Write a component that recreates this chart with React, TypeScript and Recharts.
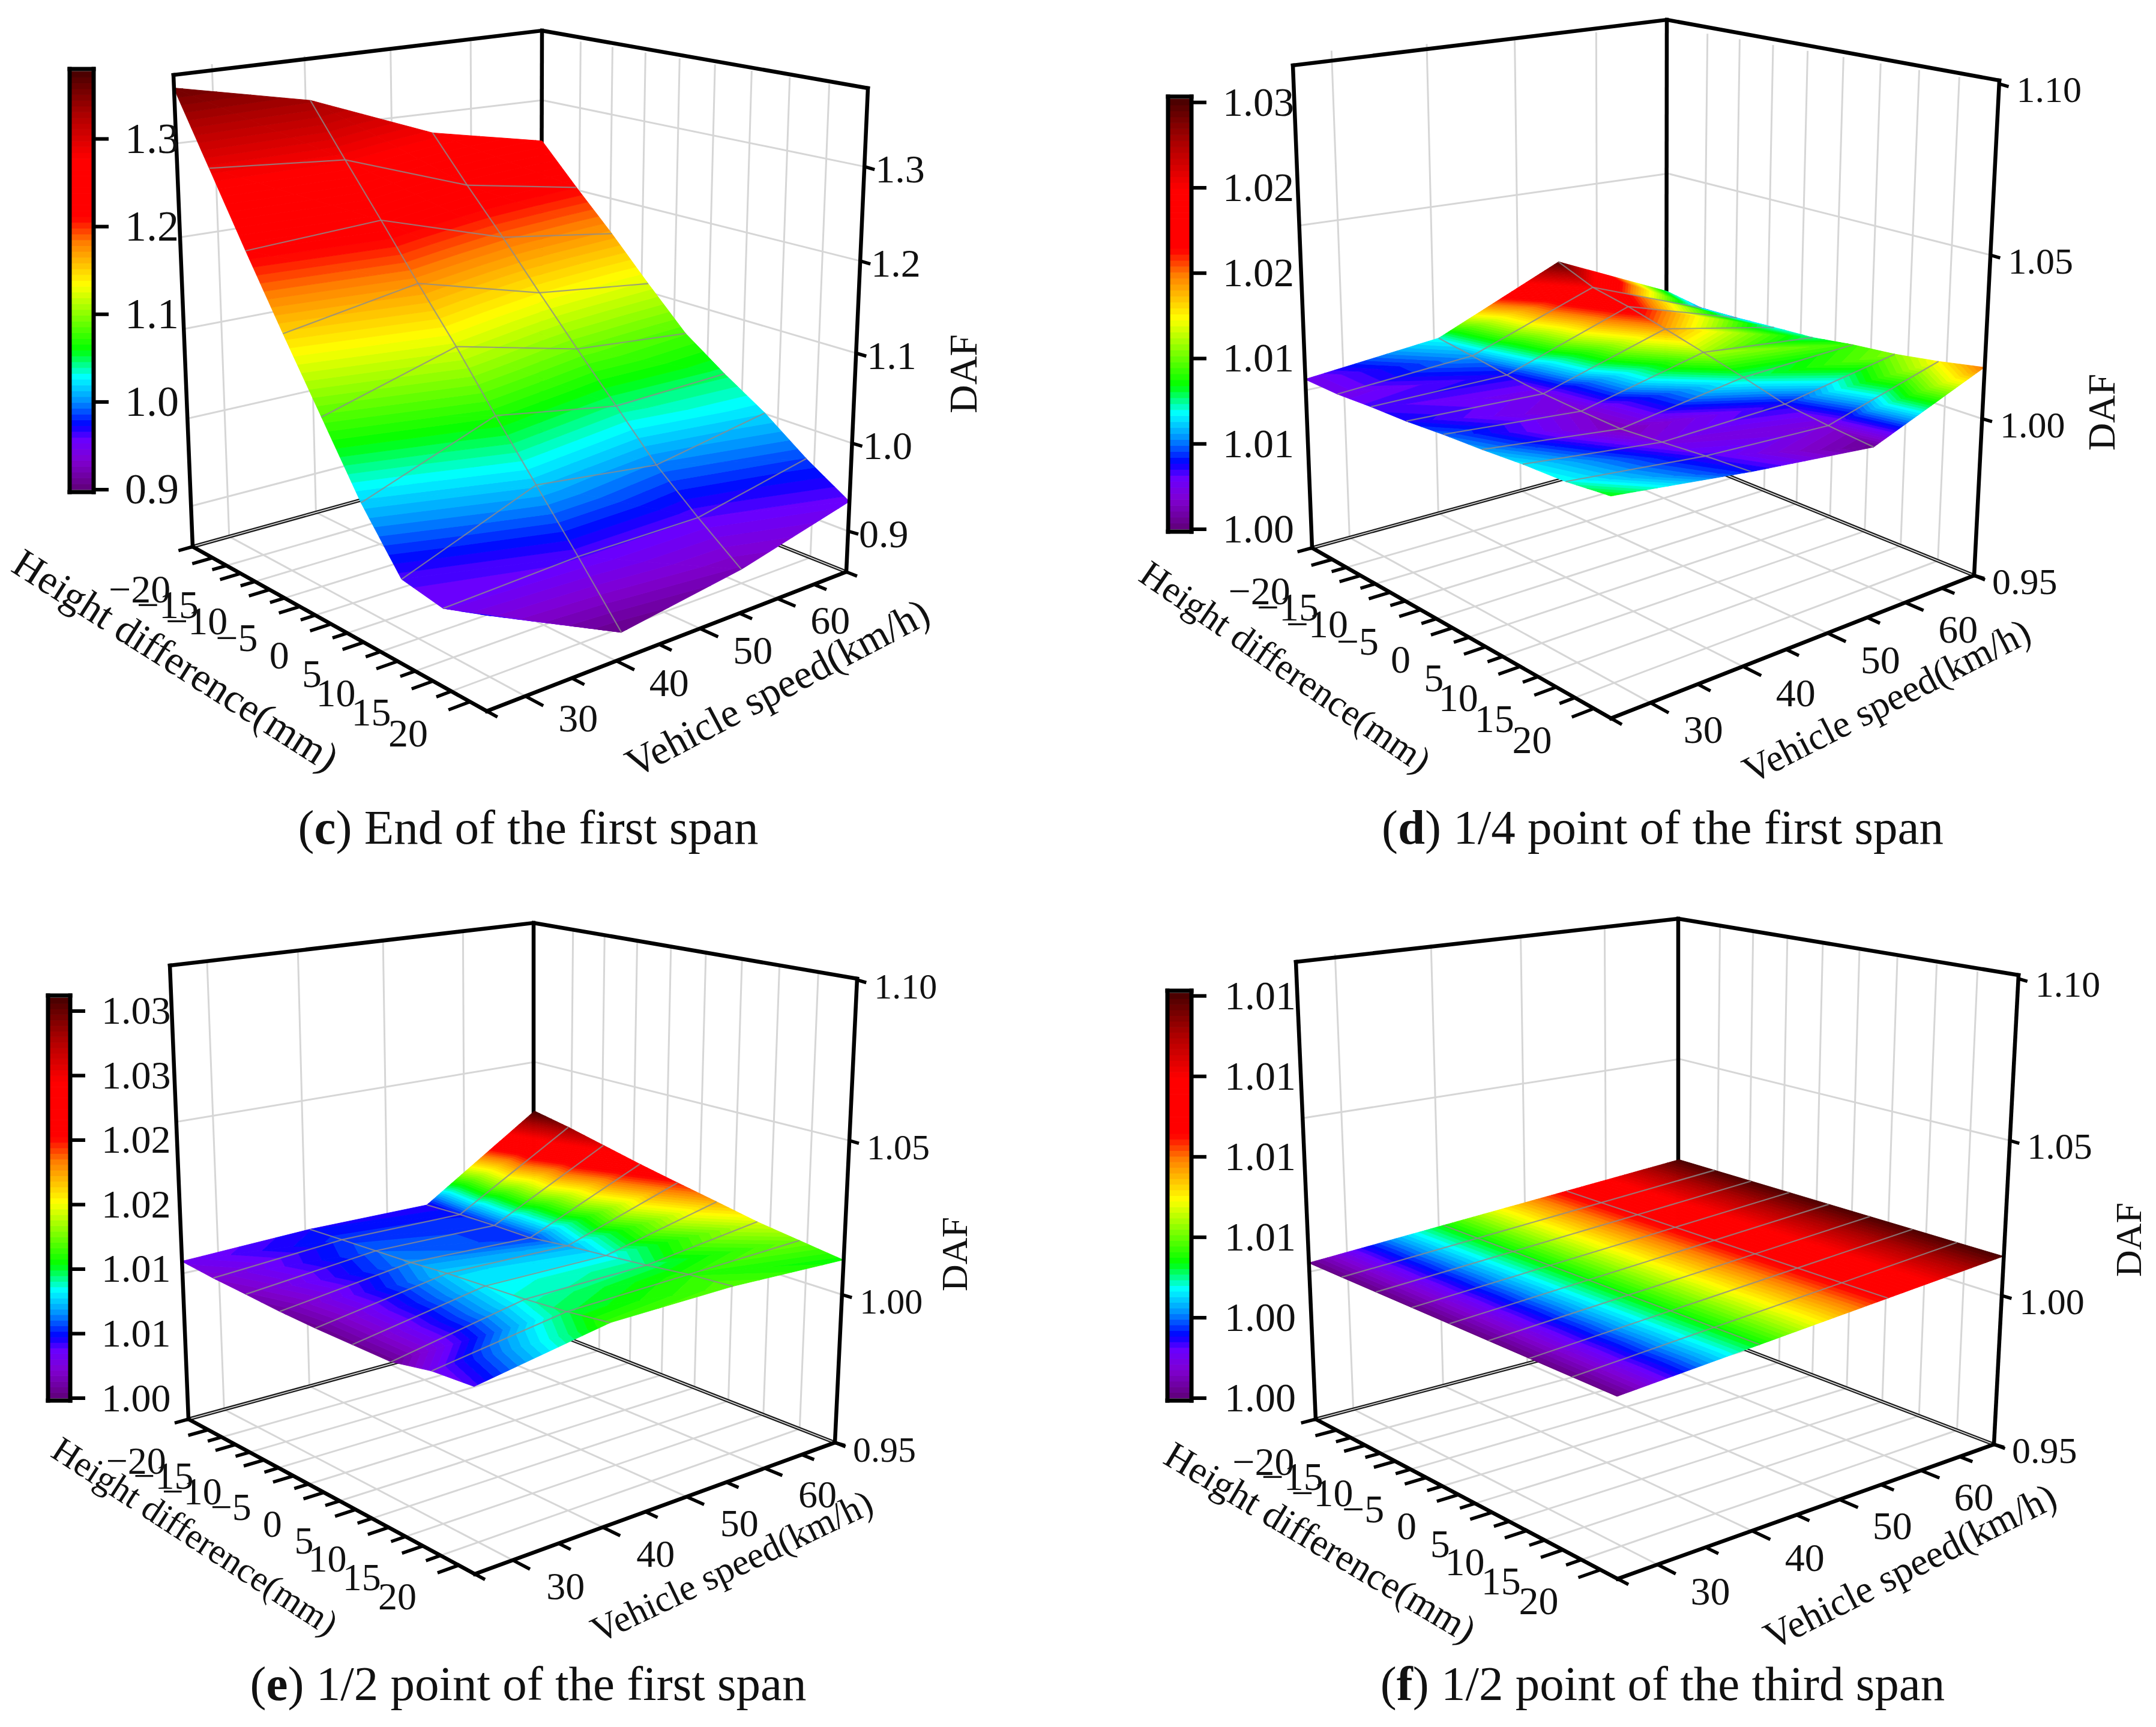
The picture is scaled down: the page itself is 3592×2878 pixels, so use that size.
import React from "react";
import { ScatterChart, Scatter, XAxis, YAxis } from "recharts";

const W = 3592;
const H = 2878;
const FONT = "'Liberation Serif', 'Times New Roman', serif";

// ---------- shared categories ----------
const heightDiffs = [-20, -15, -10, -5, 0, 5, 10, 15, 20];
const speeds = [30, 40, 50, 60];
const speedTickLabels = [30, 40, 50, 60];
const speedMinor = [35, 45, 55, 65];
const heightMinor = [-17.5, -12.5, -7.5, -2.5, 2.5, 7.5, 12.5, 17.5];

// ---------- (c) End of the first span: DAF at speed 30/40/50/60 for each height difference ----------
const cAt30 = [1.358, 1.284, 1.21, 1.138, 1.068, 0.998, 0.94, 0.932, 0.947];
const cAt40 = [1.33, 1.274, 1.219, 1.163, 1.109, 1.051, 0.995, 0.939, 0.881];
const cAt50 = [1.277, 1.226, 1.177, 1.126, 1.076, 1.027, 0.978, 0.938, 0.901];
const cAt60 = [1.25, 1.203, 1.158, 1.11, 1.064, 1.031, 1.001, 0.965, 0.934];
// ---------- (d) 1/4 point of the first span ----------
const dAt30 = [1.0025, 1.0025, 1.0033, 1.0038, 1.0048, 1.0055, 1.0065, 1.007, 1.0085];
const dAt40 = [1.007, 1.0055, 1.0038, 1.0025, 1.0018, 1.0013, 1.0023, 1.0033, 1.004];
const dAt50 = [1.0248, 1.02, 1.0175, 1.0143, 1.011, 1.0075, 1.0038, 1.002, 1.0005];
const dAt60 = [1.0075, 1.0055, 1.006, 1.0068, 1.0075, 1.0093, 1.0105, 1.0125, 1.015];
// ---------- (e) 1/2 point of the first span ----------
const eAt30 = [1.0032, 1.0022, 1.0016, 1.0009, 1.0006, 1.0006, 1.0006, 1.0032, 1.0041];
const eAt40 = [1.0047, 1.0054, 1.006, 1.0066, 1.0076, 1.0082, 1.0088, 1.0098, 1.0114];
const eAt50 = [1.0044, 1.0051, 1.0054, 1.0054, 1.007, 1.0082, 1.0095, 1.0111, 1.012];
const eAt60 = [1.031, 1.0285, 1.0255, 1.0225, 1.0198, 1.0172, 1.0145, 1.0125, 1.0105];
// ---------- (f) 1/2 point of the third span ----------
const fAt30 = [1.0001, 1.0001, 1.0001, 1.0001, 1.0001, 1.0001, 1.0001, 1.0001, 1.0001];
const fAt40 = [1.0034, 1.0034, 1.0034, 1.0034, 1.0034, 1.0034, 1.0034, 1.0034, 1.0034];
const fAt50 = [1.0067, 1.0067, 1.0067, 1.0067, 1.0067, 1.0067, 1.0067, 1.0067, 1.0067];
const fAt60 = [1.01, 1.01, 1.01, 1.01, 1.01, 1.01, 1.01, 1.01, 1.01];

// ---------- value-axis ticks ----------
const cDafTicks = [0.9, 1.0, 1.1, 1.2, 1.3];
const cDafLabels = ["0.9", "1.0", "1.1", "1.2", "1.3"];
const lowDafTicks = [0.95, 1.0, 1.05, 1.1];
const lowDafLabels = ["0.95", "1.00", "1.05", "1.10"];
const cBarTicks = [0.9, 1.0, 1.1, 1.2, 1.3];
const cBarLabels = ["0.9", "1.0", "1.1", "1.2", "1.3"];
const dBarTicks = [1.0, 1.005, 1.01, 1.015, 1.02, 1.025];
const dBarLabels = ["1.00", "1.01", "1.01", "1.02", "1.02", "1.03"];
const eBarTicks = [1.0, 1.005, 1.01, 1.015, 1.02, 1.025, 1.03];
const eBarLabels = ["1.00", "1.01", "1.01", "1.02", "1.02", "1.03", "1.03"];
const fBarTicks = [1.0, 1.002, 1.004, 1.006, 1.008, 1.01];
const fBarLabels = ["1.00", "1.00", "1.01", "1.01", "1.01", "1.01"];

// Origin-style rainbow palette
const paletteStops: [number, number[]][] = [
  [0, [96, 0, 120]],
  [0.07, [128, 0, 210]],
  [0.12, [105, 0, 255]],
  [0.155, [0, 0, 255]],
  [0.21, [0, 140, 255]],
  [0.27, [0, 255, 255]],
  [0.335, [0, 255, 0]],
  [0.49, [255, 255, 0]],
  [0.59, [255, 128, 0]],
  [0.65, [255, 0, 0]],
  [0.79, [255, 0, 0]],
  [0.9, [170, 0, 0]],
  [1, [70, 0, 0]],
];
const LEVELS = 72;

function paletteColor(f: number): string {
  for (let i = 1; i < paletteStops.length; i++) {
    if (f <= paletteStops[i][0]) {
      const [a, ca] = paletteStops[i - 1];
      const [b, cb] = paletteStops[i];
      const t = (f - a) / (b - a);
      const c = ca.map((v, k) => Math.round(v + (cb[k] - v) * t));
      return `rgb(${c[0]},${c[1]},${c[2]})`;
    }
  }
  return "rgb(70,0,0)";
}

type P = [number, number];
type Panel = {
  rows: number[][];
  L: P; F: P; R: P; B: P; TL: P; TB: P; TR: P;
  zLo: number; zHi: number; surfaceLo: number; lift: number;
  dafTicks: number[]; dafLabels: string[]; dafGrid: number[];
  bar: { x0: number; x1: number; yBottom: number; yTop: number; lo: number; hi: number; ticks: number[]; labels: string[]; labelX: number; size: number };
  tickSize: number; zSize: number; zDx: number; zDy: number; speedDy: number;
  heightTitle: { x: number; y: number; rot: number; size: number };
  speedTitle: { x: number; y: number; rot: number; size: number };
  daf: { x: number; y: number; size: number };
  caption: { x: number; y: number; letter: string; rest: string };
};

const panels: Panel[] = [
  {
    rows: [cAt30, cAt40, cAt50, cAt60],
    L: [321, 911], F: [811, 1185], R: [1410, 953], B: [901, 750], TL: [289, 125], TB: [903, 51], TR: [1446, 147],
    zLo: 0.853, zHi: 1.379, surfaceLo: 0.875, lift: 0, dafTicks: cDafTicks, dafLabels: cDafLabels, dafGrid: cDafTicks,
    bar: { x0: 119, x1: 153, yBottom: 816, yTop: 119, lo: 0.9, hi: 1.377, ticks: cBarTicks, labels: cBarLabels, labelX: 208, size: 72 },
    tickSize: 66, zSize: 66, zDx: 18, zDy: 4, speedDy: 36,
    heightTitle: { x: 293, y: 1100, rot: 32.5, size: 68 },
    speedTitle: { x: 1295, y: 1146, rot: -27.8, size: 68 },
    daf: { x: 1604, y: 623, size: 66 },
    caption: { x: 880, y: 1379, letter: "c", rest: " End of the first span" },
  },
  {
    rows: [dAt30, dAt40, dAt50, dAt60],
    L: [2186, 913], F: [2684, 1197], R: [3289, 959], B: [2776, 751], TL: [2154, 109], TB: [2777, 33], TR: [3331, 134],
    zLo: 0.95, zHi: 1.1, surfaceLo: 1.0, lift: 0.006, dafTicks: lowDafTicks, dafLabels: lowDafLabels, dafGrid: [1.0, 1.05],
    bar: { x0: 1949, x1: 1982, yBottom: 882, yTop: 165, lo: 1.0, hi: 1.0252, ticks: dBarTicks, labels: dBarLabels, labelX: 2037, size: 68 },
    tickSize: 66, zSize: 62, zDx: 30, zDy: 10, speedDy: 44,
    heightTitle: { x: 2142, y: 1111, rot: 34.5, size: 62 },
    speedTitle: { x: 3143, y: 1168, rot: -27, size: 64 },
    daf: { x: 3501, y: 687, size: 64 },
    caption: { x: 2770, y: 1379, letter: "d", rest: " 1/4 point of the first span" },
  },
  {
    rows: [eAt30, eAt40, eAt50, eAt60],
    L: [314, 2365], F: [791, 2623], R: [1391, 2404], B: [889, 2208], TL: [283, 1609], TB: [889, 1538], TR: [1428, 1631],
    zLo: 0.95, zHi: 1.1, surfaceLo: 1.0, lift: 0.006, dafTicks: lowDafTicks, dafLabels: lowDafLabels, dafGrid: [1.0, 1.05],
    bar: { x0: 83, x1: 114, yBottom: 2330, yTop: 1663, lo: 1.0, hi: 1.03102, ticks: eBarTicks, labels: eBarLabels, labelX: 169, size: 66 },
    tickSize: 64, zSize: 60, zDx: 30, zDy: 12, speedDy: 44,
    heightTitle: { x: 325, y: 2560, rot: 33, size: 60 },
    speedTitle: { x: 1219, y: 2610, rot: -25.5, size: 62 },
    daf: { x: 1590, y: 2090, size: 62 },
    caption: { x: 880, y: 2806, letter: "e", rest: " 1/2 point of the first span" },
  },
  {
    rows: [fAt30, fAt40, fAt50, fAt60],
    L: [2192, 2365], F: [2695, 2631], R: [3322, 2407], B: [2796, 2206], TL: [2159, 1603], TB: [2796, 1531], TR: [3363, 1625],
    zLo: 0.95, zHi: 1.1, surfaceLo: 1.0, lift: 0.019, dafTicks: lowDafTicks, dafLabels: lowDafLabels, dafGrid: [1.0, 1.05],
    bar: { x0: 1948, x1: 1982, yBottom: 2330, yTop: 1655, lo: 1.0, hi: 1.01007, ticks: fBarTicks, labels: fBarLabels, labelX: 2040, size: 68 },
    tickSize: 66, zSize: 62, zDx: 30, zDy: 10, speedDy: 44,
    heightTitle: { x: 2200, y: 2570, rot: 30.8, size: 64 },
    speedTitle: { x: 3182, y: 2610, rot: -26.8, size: 65 },
    daf: { x: 3546, y: 2066, size: 62 },
    caption: { x: 2770, y: 2806, letter: "f", rest: " 1/2 point of the third span" },
  },
];

// axis extents along the floor, expressed in the tick labels' units
const H_LO = -23.7, H_HI = 22.2;
const S_LO = 26, S_HI = 69.6;

function makeProjector(p: Panel) {
  const [x0, y0] = p.L, [x1, y1] = p.F, [x2, y2] = p.R, [x3, y3] = p.B;
  const dx1 = x1 - x2, dx2 = x3 - x2, sx = x0 - x1 + x2 - x3;
  const dy1 = y1 - y2, dy2 = y3 - y2, sy = y0 - y1 + y2 - y3;
  const den = dx1 * dy2 - dx2 * dy1;
  const g = (sx * dy2 - dx2 * sy) / den;
  const h = (dx1 * sy - sx * dy1) / den;
  const a = x1 - x0 + g * x1, b = x3 - x0 + h * x3, c = x0;
  const d = y1 - y0 + g * y1, e = y3 - y0 + h * y3, f = y0;
  // least-squares fit of the vertical column through the three visible top corners
  const tops: [number, number, P][] = [[0, 0, p.TL], [0, 1, p.TB], [1, 1, p.TR]];
  const A: number[][] = [];
  const rhs: number[] = [];
  tops.forEach(([u, v, T]) => {
    const dn = g * u + h * v + 1;
    A.push([1, 0, -T[0]]); rhs.push(T[0] * dn - (a * u + b * v + c));
    A.push([0, 1, -T[1]]); rhs.push(T[1] * dn - (d * u + e * v + f));
  });
  const N = [0, 1, 2].map((r) => [0, 1, 2].map((s) => A.reduce((acc, row) => acc + row[r] * row[s], 0)));
  const M = [0, 1, 2].map((r) => A.reduce((acc, row, k) => acc + row[r] * rhs[k], 0));
  for (let i = 0; i < 3; i++) {
    let piv = i;
    for (let r = i + 1; r < 3; r++) if (Math.abs(N[r][i]) > Math.abs(N[piv][i])) piv = r;
    [N[i], N[piv]] = [N[piv], N[i]];
    [M[i], M[piv]] = [M[piv], M[i]];
    for (let r = 0; r < 3; r++) {
      if (r === i) continue;
      const k = N[r][i] / N[i][i];
      for (let s = 0; s < 3; s++) N[r][s] -= k * N[i][s];
      M[r] -= k * M[i];
    }
  }
  const c1 = M[0] / N[0][0], c2 = M[1] / N[1][1], c3 = M[2] / N[2][2];
  return (u: number, v: number, w: number): P => {
    const dn = g * u + h * v + 1 + c3 * w;
    return [(a * u + b * v + c + c1 * w) / dn, (d * u + e * v + f + c2 * w) / dn];
  };
}

type Seg = { px: number; py: number; dx: number; dy: number; stroke: string; w: number; cap?: string };
type Poly = { px: number; py: number; pts: P[]; fill: string };
type Txt = { px: number; py: number; text: string; size: number; anchor: string; rot?: number; letter?: string };

const seg = (a: P, b: P, stroke: string, w: number, cap = "butt"): Seg => ({
  px: (a[0] + b[0]) / 2, py: (a[1] + b[1]) / 2, dx: (b[0] - a[0]) / 2, dy: (b[1] - a[1]) / 2, stroke, w, cap,
});

function polyFrom(points: P[], fill: string): Poly {
  const px = points.reduce((s, q) => s + q[0], 0) / points.length;
  const py = points.reduce((s, q) => s + q[1], 0) / points.length;
  return { px, py, pts: points.map((q) => [q[0] - px, q[1] - py] as P), fill };
}

function clipAbove(poly: number[][], level: number, keepAbove: boolean): number[][] {
  const out: number[][] = [];
  const inside = (q: number[]) => (keepAbove ? q[2] >= level : q[2] <= level);
  for (let i = 0; i < poly.length; i++) {
    const a = poly[i], b = poly[(i + 1) % poly.length];
    const ia = inside(a), ib = inside(b);
    if (ia) out.push(a);
    if (ia !== ib) {
      const t = (level - a[2]) / (b[2] - a[2]);
      out.push([a[0] + (b[0] - a[0]) * t, a[1] + (b[1] - a[1]) * t, level]);
    }
  }
  return out;
}

function bandsOfTriangle(tri: number[][], lo: number, hi: number, out: Poly[]) {
  const zs = tri.map((q) => q[2]);
  const zmin = Math.min(...zs), zmax = Math.max(...zs);
  for (let k = 0; k < LEVELS; k++) {
    const a = lo + ((hi - lo) * k) / LEVELS;
    const b = lo + ((hi - lo) * (k + 1)) / LEVELS;
    const aa = k === 0 ? -Infinity : a;
    const bb = k === LEVELS - 1 ? Infinity : b;
    if (zmax < aa || zmin > bb) continue;
    let poly = tri;
    if (aa !== -Infinity) poly = clipAbove(poly, aa, true);
    if (poly.length && bb !== Infinity) poly = clipAbove(poly, bb, false);
    if (poly.length < 3) continue;
    out.push(polyFrom(poly.map((q) => [q[0], q[1]] as P), paletteColor((k + 0.5) / LEVELS)));
  }
}

const backLayer: Seg[] = [];
const surfaceLayer: Poly[] = [];
const frontLayer: Seg[] = [];
const textLayer: Txt[] = [];

const GRID = "#d6d6d6";
const MESH = "rgba(140,140,140,0.8)";
const INK = "#000000";
const FRAME = 6.5;

panels.forEach((p) => {
  const proj = makeProjector(p);
  const uOf = (hd: number) => (hd - H_LO) / (H_HI - H_LO);
  const vOf = (s: number) => (s - S_LO) / (S_HI - S_LO);
  const wOf = (z: number) => (z - p.zLo) / (p.zHi - p.zLo);

  // floor and wall grids
  heightMinor.forEach((hd) => {
    const u = uOf(hd);
    backLayer.push(seg(proj(u, 0, 0), proj(u, 1, 0), GRID, 3));
    backLayer.push(seg(proj(u, 1, 0), proj(u, 1, 1), GRID, 3));
  });
  speeds.forEach((s) => {
    const v = vOf(s);
    backLayer.push(seg(proj(0, v, 0), proj(1, v, 0), GRID, 3));
    backLayer.push(seg(proj(0, v, 0), proj(0, v, 1), GRID, 3));
  });
  p.dafGrid.forEach((z) => {
    const w = wOf(z);
    backLayer.push(seg(proj(0, 0, w), proj(0, 1, w), GRID, 3));
    backLayer.push(seg(proj(0, 1, w), proj(1, 1, w), GRID, 3));
  });

  // back frame
  backLayer.push(seg(proj(0, 0, 0), proj(0, 1, 0), "#1c1c1c", 6));
  backLayer.push(seg(proj(0, 1, 0), proj(1, 1, 0), "#1c1c1c", 6));
  backLayer.push(seg(proj(0, 0, 0), proj(0, 1, 0), "#e8e8e8", 1.6));
  backLayer.push(seg(proj(0, 1, 0), proj(1, 1, 0), "#e8e8e8", 1.6));
  backLayer.push(seg(p.TL, p.TB, INK, FRAME, "square"));
  backLayer.push(seg(p.TB, p.TR, INK, FRAME, "square"));
  backLayer.push(seg(p.B, p.TB, INK, FRAME));

  // surface, far cells first, split into iso-level bands
  const node = (i: number, j: number): number[] => {
    const z = p.rows[j][i];
    const q = proj(i / (heightDiffs.length - 1), j / (speeds.length - 1), wOf(z) + p.lift);
    return [q[0], q[1], z];
  };
  for (let i = 0; i < heightDiffs.length - 1; i++) {
    for (let j = speeds.length - 2; j >= 0; j--) {
      const a = node(i, j), b = node(i + 1, j), c = node(i + 1, j + 1), d = node(i, j + 1);
      bandsOfTriangle([a, b, c], p.surfaceLo, p.bar.hi, surfaceLayer);
      bandsOfTriangle([a, c, d], p.surfaceLo, p.bar.hi, surfaceLayer);
    }
  }

  // mesh lines on the surface
  for (let i = 0; i < heightDiffs.length; i++) {
    for (let j = 0; j < speeds.length; j++) {
      const a = node(i, j);
      if (i < heightDiffs.length - 1 && j > 0 && j < speeds.length - 1) {
        const b = node(i + 1, j);
        frontLayer.push(seg([a[0], a[1]], [b[0], b[1]], MESH, 2.2));
      }
      if (j < speeds.length - 1 && i > 0 && i < heightDiffs.length - 1) {
        const b = node(i, j + 1);
        frontLayer.push(seg([a[0], a[1]], [b[0], b[1]], MESH, 2.2));
      }
    }
  }

  // front frame
  frontLayer.push(seg(p.L, p.TL, INK, FRAME, "square"));
  frontLayer.push(seg(p.R, p.TR, INK, FRAME, "square"));
  frontLayer.push(seg(p.L, p.F, INK, FRAME, "square"));
  frontLayer.push(seg(p.F, p.R, INK, FRAME, "square"));
  frontLayer.push(seg(p.L, proj(0, -0.035, 0), INK, 5.5));
  frontLayer.push(seg(p.F, proj(1.03, 0, 0), INK, 5.5));
  frontLayer.push(seg(p.R, proj(1.03, 1, 0), INK, 5.5));

  // height axis ticks and labels
  heightDiffs.forEach((hd) => {
    const t = proj(uOf(hd), 0, 0);
    frontLayer.push(seg(t, proj(uOf(hd), -0.05, 0), INK, 5.5));
    textLayer.push({
      px: t[0] - 70, py: t[1] + 52,
      text: hd < 0 ? `\u2212${-hd}` : String(hd), size: p.tickSize, anchor: "end",
    });
  });
  heightMinor.forEach((hd) => {
    const t = proj(uOf(hd), 0, 0);
    frontLayer.push(seg(t, proj(uOf(hd), -0.035, 0), INK, 5.5));
  });

  // speed axis ticks and labels
  speedTickLabels.forEach((s) => {
    const t = proj(1, vOf(s), 0);
    frontLayer.push(seg(t, proj(1.05, vOf(s), 0), INK, 5.5));
    textLayer.push({ px: t[0] + 88, py: t[1] + p.speedDy, text: String(s), size: p.tickSize, anchor: "middle" });
  });
  speedMinor.forEach((s) => {
    const t = proj(1, vOf(s), 0);
    frontLayer.push(seg(t, proj(1.035, vOf(s), 0), INK, 5.5));
  });

  // DAF axis ticks and labels
  p.dafTicks.forEach((z, i) => {
    const t = proj(1, 1, wOf(z));
    frontLayer.push(seg(t, [t[0] + 17, t[1] + 5], INK, 5.5));
    textLayer.push({ px: t[0] + p.zDx, py: t[1] + p.zDy, text: p.dafLabels[i], size: p.zSize, anchor: "start" });
  });

  // colour bar
  const barY = (z: number) => p.bar.yBottom + ((p.bar.yTop - p.bar.yBottom) * (z - p.bar.lo)) / (p.bar.hi - p.bar.lo);
  for (let k = 0; k < LEVELS; k++) {
    const y0b = p.bar.yBottom + ((p.bar.yTop - p.bar.yBottom) * k) / LEVELS;
    const y1b = p.bar.yBottom + ((p.bar.yTop - p.bar.yBottom) * (k + 1)) / LEVELS;
    surfaceLayer.push(polyFrom([[p.bar.x0, y0b], [p.bar.x1, y0b], [p.bar.x1, y1b], [p.bar.x0, y1b]], paletteColor((k + 0.5) / LEVELS)));
  }
  const fx0 = p.bar.x0 - 3, fx1 = p.bar.x1 + 3, fy0 = p.bar.yTop - 4, fy1 = p.bar.yBottom + 4;
  frontLayer.push(seg([fx0, fy0], [fx1, fy0], INK, 7, "square"));
  frontLayer.push(seg([fx0, fy1], [fx1, fy1], INK, 7, "square"));
  frontLayer.push(seg([fx0, fy0], [fx0, fy1], INK, 7, "square"));
  frontLayer.push(seg([fx1, fy0], [fx1, fy1], INK, 7, "square"));
  p.bar.ticks.forEach((z, i) => {
    const y = barY(z);
    frontLayer.push(seg([fx1, y], [fx1 + 25, y], INK, 6));
    textLayer.push({ px: p.bar.labelX, py: y - 1, text: p.bar.labels[i], size: p.bar.size, anchor: "start" });
  });

  // titles
  textLayer.push({ px: p.heightTitle.x, py: p.heightTitle.y, text: "Height difference(mm)", size: p.heightTitle.size, anchor: "middle", rot: p.heightTitle.rot });
  textLayer.push({ px: p.speedTitle.x, py: p.speedTitle.y, text: "Vehicle speed(km/h)", size: p.speedTitle.size, anchor: "middle", rot: p.speedTitle.rot });
  textLayer.push({ px: p.daf.x, py: p.daf.y, text: "DAF", size: p.daf.size, anchor: "middle", rot: -90 });
  textLayer.push({ px: p.caption.x, py: p.caption.y, text: p.caption.rest, size: 81, anchor: "middle", letter: p.caption.letter });
});

const SegShape = (props: any) => {
  const { cx, cy, payload: s } = props;
  return <line x1={cx - s.dx} y1={cy - s.dy} x2={cx + s.dx} y2={cy + s.dy} stroke={s.stroke} strokeWidth={s.w} strokeLinecap={s.cap} />;
};
const PolyShape = (props: any) => {
  const { cx, cy, payload: s } = props;
  const pts = s.pts.map((q: P) => `${(cx + q[0]).toFixed(1)},${(cy + q[1]).toFixed(1)}`).join(" ");
  return <polygon points={pts} fill={s.fill} stroke={s.fill} strokeWidth={0.9} strokeLinejoin="round" />;
};
const TextShape = (props: any) => {
  const { cx, cy, payload: s } = props;
  return (
    <text
      x={cx}
      y={cy}
      fontFamily={FONT}
      fontSize={s.size}
      textAnchor={s.anchor}
      dominantBaseline="central"
      fill="#111"
      transform={s.rot ? `rotate(${s.rot} ${cx} ${cy})` : undefined}
    >
      {s.letter ? (
        <>
          (<tspan fontWeight="bold">{s.letter}</tspan>)
        </>
      ) : null}
      {s.text}
    </text>
  );
};

export default function App() {
  return (
    <div style={{ position: "absolute", left: 0, top: 0, width: W, height: H, background: "#fff" }}>
      <ScatterChart width={W} height={H} margin={{ top: 0, right: 0, bottom: 0, left: 0 }}>
        <XAxis type="number" dataKey="px" domain={[0, W]} hide />
        <YAxis type="number" dataKey="py" domain={[0, H]} reversed hide />
        <Scatter name="walls and floor" data={backLayer} shape={SegShape} isAnimationActive={false} />
        <Scatter name="DAF surfaces and colour bars" data={surfaceLayer} shape={PolyShape} isAnimationActive={false} />
        <Scatter name="mesh and axes" data={frontLayer} shape={SegShape} isAnimationActive={false} />
        <Scatter name="labels" data={textLayer} shape={TextShape} isAnimationActive={false} />
      </ScatterChart>
    </div>
  );
}
